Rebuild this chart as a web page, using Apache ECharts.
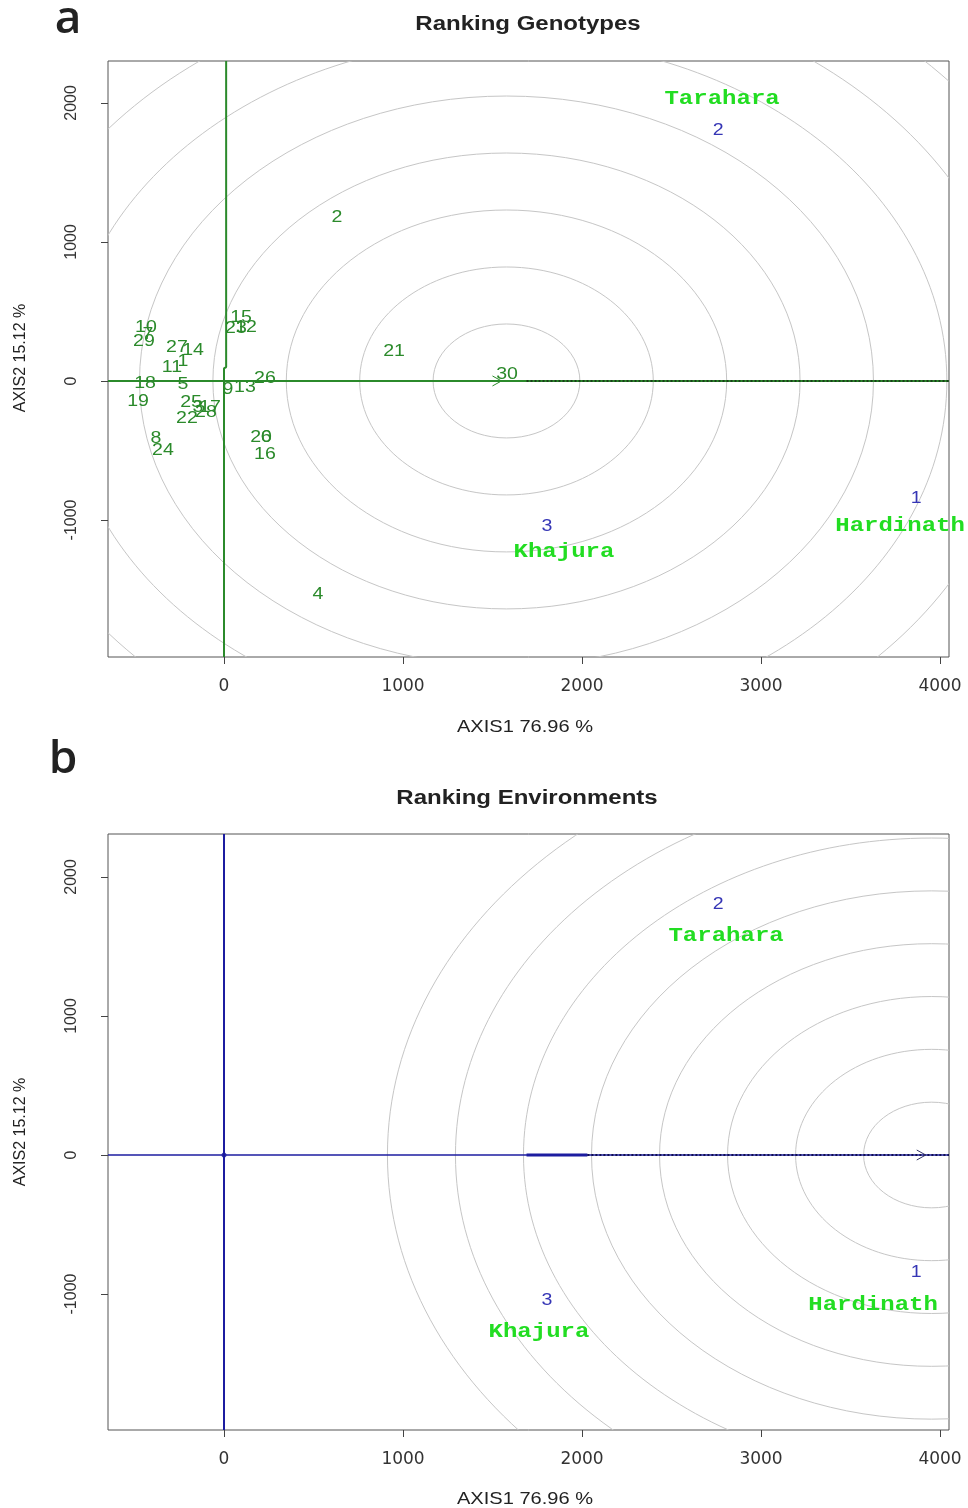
<!DOCTYPE html>
<html><head><meta charset="utf-8">
<script src="https://cdn.jsdelivr.net/npm/echarts@6/dist/echarts.min.js"></script>
<style>html,body{margin:0;padding:0;background:#fff}#c{width:968px;height:1508px}</style>
</head><body><div id="c"></div><script>
// ---------- data ----------
const xTicks = [0, 1000, 2000, 3000, 4000];
const yTicks = [-1000, 0, 1000, 2000];
const xRange = [-648, 4050];
const yRangeA = [-1986, 2302];
const yRangeB = [-1978, 2309];

const genotypeIds = ['1','2','3','4','5','6','7','8','9','10','11','12','13','14','15','16','17','18','19','20','21','22','23','24','25','26','27','28','29','30'];
const genotypeX = [-229, 631, -145, 525, -229, 235, -425, -380, 22, -436, -291, 123, 117, -173, 95, 229, -78, -441, -480, 207, 950, -207, 67, -341, -184, 229, -263, -101, -447, 1581];
const genotypeY = [158, 1194, -173, -1518, -7, -388, 353, -396, -43, 403, 115, 403, -29, 237, 475, -511, -173, 0, -129, -388, 230, -252, 396, -482, -137, 36, 259, -209, 302, 65];

const envIds = ['1', '2', '3'];
const envNames = ['Hardinath', 'Tarahara', 'Khajura'];
const envX = [3866, 2760, 1804];
const envY = [-827, 1820, -1029];

const idealGenotype = [1578, 0];
const genotypeRings = [410, 820, 1230, 1640, 2050, 2460, 2870, 3280];
const genotypeArrowTip = 1550;
const genotypeAeaSolidEnd = 1690;

const idealEnvironment = [3953, 0];
const environmentRings = [380, 760, 1140, 1520, 1900, 2280, 2660, 3040];
const environmentArrowTip = 3920;
const environmentAeaThinEnd = 1690;
const environmentAeaThickEnd = 2030;

// ---------- styles ----------
const nameOffsetsA = [[-16, 30], [4, -29], [17, 28]];
const nameOffsetsB = [[-43, 35], [8, 34], [-8, 34]];
const GREEN = '#2b8a2b', BLUE = '#3535b5', NAVY = '#1c1ca0', NAME_GREEN = '#22dd22';

function xAxisCfg(gi) {
  return {type: 'value', gridIndex: gi, min: xRange[0], max: xRange[1],
    axisLine: {show: false, onZero: false}, splitLine: {show: false},
    axisTick: {show: true, customValues: xTicks, length: 7, lineStyle: {color: '#444'}},
    axisLabel: {customValues: xTicks, margin: 21, fontSize: 17, fontFamily: 'DejaVu Sans', color: '#333',
      formatter: v => String(v)}};
}
function yAxisCfg(gi, r) {
  return {type: 'value', gridIndex: gi, min: r[0], max: r[1],
    axisLine: {show: false, onZero: false}, splitLine: {show: false},
    axisTick: {show: true, customValues: yTicks, length: 7, lineStyle: {color: '#444'}},
    axisLabel: {customValues: yTicks, rotate: 90, margin: 28, fontSize: 16, fontFamily: 'Liberation Sans', color: '#333',
      formatter: v => String(v)}};
}
function seg(gi, pts, style, z) {
  return {type: 'line', xAxisIndex: gi, yAxisIndex: gi, data: pts, symbol: 'none', showSymbol: false,
    lineStyle: style, silent: true, z: z || 3, clip: true};
}
function rings(gi, center, radii) {
  return {type: 'custom', xAxisIndex: gi, yAxisIndex: gi, clip: true, silent: true, z: 1,
    data: radii.map(r => [center[0], center[1], r]),
    encode: {x: 0, y: 1},
    renderItem: function (params, api) {
      const c = api.coord([api.value(0), api.value(1)]);
      const r = api.value(2);
      const rx = api.size([r, 0])[0], ry = api.size([0, r])[1];
      return {type: 'ellipse', shape: {cx: c[0], cy: c[1], rx: rx, ry: ry},
        style: {fill: null, stroke: '#c6c6c6', lineWidth: 1}};
    }};
}
function arrow(gi, tip, color) {
  return {type: 'custom', xAxisIndex: gi, yAxisIndex: gi, silent: true, z: 6,
    data: [[tip, 0]], encode: {x: 0, y: 1},
    renderItem: function (params, api) {
      const c = api.coord([api.value(0), api.value(1)]);
      return {type: 'polyline', shape: {points: [[c[0] - 9, c[1] - 5], [c[0], c[1]], [c[0] - 9, c[1] + 5]]},
        style: {fill: null, stroke: color, lineWidth: 1}};
    }};
}
function labels(gi, ids, xs, ys, color, z) {
  return {type: 'custom', xAxisIndex: gi, yAxisIndex: gi, silent: true, z: z || 8,
    data: ids.map((id, i) => [xs[i], ys[i]]), encode: {x: 0, y: 1},
    renderItem: function (params, api) {
      const c = api.coord([api.value(0), api.value(1)]);
      return {type: 'text', x: c[0], y: c[1] + 2, scaleX: 1.15,
        style: {text: ids[params.dataIndex], fill: color, font: '17px "Liberation Sans"',
          align: 'center', verticalAlign: 'middle'}};
    }};
}
function envNameSeries(gi, offsets) {
  return {type: 'custom', xAxisIndex: gi, yAxisIndex: gi, silent: true, z: 9,
    data: envX.map((x, i) => [x, envY[i]]), encode: {x: 0, y: 1},
    renderItem: function (params, api) {
      const c = api.coord([api.value(0), api.value(1)]);
      const o = offsets[params.dataIndex];
      return {type: 'text', x: c[0] + o[0], y: c[1] + o[1], scaleX: 1.2,
        style: {text: envNames[params.dataIndex], fill: NAME_GREEN,
          font: 'bold 20px "Liberation Mono"', align: 'center', verticalAlign: 'middle'}};
    }};
}
function txt(t, x, y, font, opts) {
  return Object.assign({type: 'text', x: x, y: y, silent: true,
    style: {text: t, font: font, fill: '#222', align: 'center', verticalAlign: 'middle'}}, opts || {});
}

const option = {
  animation: false,
  backgroundColor: '#fff',
  grid: [
    {left: 108, top: 61, width: 841, height: 596, show: true, borderColor: '#555', borderWidth: 1, backgroundColor: 'transparent'},
    {left: 108, top: 834, width: 841, height: 596, show: true, borderColor: '#555', borderWidth: 1, backgroundColor: 'transparent'}
  ],
  xAxis: [xAxisCfg(0), xAxisCfg(1)],
  yAxis: [yAxisCfg(0, yRangeA), yAxisCfg(1, yRangeB)],
  graphic: [
    txt('a', 68, 20, '600 46px "Open Sans"', {}),
    txt('b', 63, 760, '600 46px "Open Sans"', {}),
    txt('Ranking Genotypes', 528, 24, 'bold 20px "Liberation Sans"', {scaleX: 1.2}),
    txt('Ranking Environments', 527, 798, 'bold 20px "Liberation Sans"', {scaleX: 1.2}),
    txt('AXIS1 76.96 %', 525, 727, '17px "Liberation Sans"', {scaleX: 1.18}),
    txt('AXIS1 76.96 %', 525, 1499, '17px "Liberation Sans"', {scaleX: 1.18}),
    txt('AXIS2 15.12 %', 21, 358, '16px "Liberation Sans"', {rotation: Math.PI / 2}),
    txt('AXIS2 15.12 %', 21, 1132, '16px "Liberation Sans"', {rotation: Math.PI / 2})
  ],
  series: [
    // panel a
    rings(0, idealGenotype, genotypeRings),
    seg(0, [[xRange[0], 0], [xRange[1], 0]], {color: GREEN, width: 2}),
    seg(0, [[genotypeAeaSolidEnd, 0], [xRange[1], 0]], {color: '#1b3b1b', width: 2, type: 'dotted'}, 4),
    seg(0, [[0, yRangeA[0]], [0, 90], [12, 100], [12, yRangeA[1]]], {color: GREEN, width: 2}),
    arrow(0, genotypeArrowTip, GREEN),
    labels(0, genotypeIds, genotypeX, genotypeY, GREEN),
    labels(0, envIds, envX, envY, BLUE),
    envNameSeries(0, nameOffsetsA),
    // panel b
    rings(1, idealEnvironment, environmentRings),
    seg(1, [[xRange[0], 0], [xRange[1], 0]], {color: NAVY, width: 1.5}),
    seg(1, [[environmentAeaThinEnd, 0], [environmentAeaThickEnd, 0]], {color: NAVY, width: 3}),
    seg(1, [[environmentAeaThickEnd, 0], [xRange[1], 0]], {color: '#101050', width: 2, type: 'dotted'}, 4),
    seg(1, [[0, yRangeB[0]], [0, yRangeB[1]]], {color: NAVY, width: 2}),
    {type: 'scatter', xAxisIndex: 1, yAxisIndex: 1, data: [[0, 0]], symbolSize: 5, itemStyle: {color: NAVY}, silent: true, z: 5},
    arrow(1, environmentArrowTip, '#333366'),
    labels(1, envIds, envX, envY, BLUE),
    envNameSeries(1, nameOffsetsB)
  ]
};
const chart = echarts.init(document.getElementById('c'), null, {renderer: 'canvas'});
chart.setOption(option);
</script></body></html>
